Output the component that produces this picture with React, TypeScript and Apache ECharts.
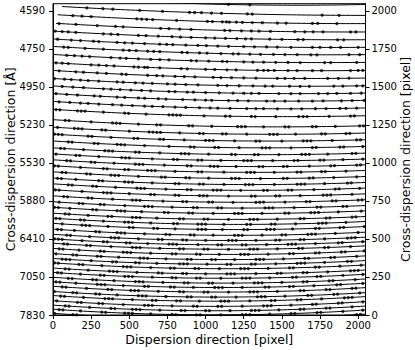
import React, { useEffect, useRef } from "react";
import * as echarts from "echarts";

const xTicks = [0, 250, 500, 750, 1000, 1250, 1500, 1750, 2000];
const pixelTicks = [0, 250, 500, 750, 1000, 1250, 1500, 1750, 2000];
const waveLabels = ["7830", "7050", "6410", "5880", "5530", "5230", "4950", "4750", "4590"];

// order traces: y [pixel] at x = 0, 1024, 2048
const traceLeft = [2100, 2033, 1977, 1920, 1868, 1816, 1767, 1714, 1660, 1609, 1556, 1507, 1457, 1405, 1353, 1285, 1236, 1190, 1145, 1100, 1060, 1021, 982, 942, 901, 863, 824, 784, 745, 709, 670, 637, 603, 565, 531, 501, 472, 438, 404, 372, 343, 309, 280, 248, 219, 189, 155, 128, 94, 65, 38, 11];
const traceMid = [2046, 1987, 1931, 1875, 1823, 1771, 1722, 1670, 1616, 1564, 1512, 1463, 1413, 1362, 1310, 1242, 1193, 1148, 1103, 1058, 1018, 979, 941, 900, 860, 822, 784, 743, 705, 669, 630, 597, 563, 525, 491, 462, 433, 399, 365, 334, 305, 271, 242, 210, 181, 151, 118, 91, 57, 28, 1, -26];
const traceRight = [2043, 1971, 1917, 1862, 1811, 1761, 1713, 1662, 1609, 1559, 1508, 1460, 1412, 1362, 1311, 1245, 1197, 1153, 1109, 1065, 1026, 988, 951, 911, 872, 835, 797, 758, 720, 685, 648, 615, 582, 545, 512, 483, 455, 422, 389, 358, 329, 296, 268, 237, 209, 180, 147, 121, 88, 59, 33, 6];
const traceStart = [0, 60, 30, 20];

// identified line positions along each order [pixel]
const orderDots: number[][] = [
  [1150, 1290],
  [222, 327, 392, 568, 718, 895, 928, 973, 1039, 1104, 1274, 1306, 1764, 1875],
  [130, 190, 250, 549, 581, 614, 653, 810, 1012, 1045, 1110, 1137, 1156, 1202, 1241, 1306, 1372, 1470, 1528, 1700, 1735, 1860],
  [40, 150, 290, 410, 460, 705, 760, 830, 905, 1125, 1160, 1235, 1300, 1350, 1425, 1585, 1650, 1705, 1770, 1950, 1985],
  [15, 60, 100, 150, 330, 380, 425, 560, 610, 690, 780, 835, 905, 1000, 1060, 1130, 1205, 1262, 1300, 1420, 1500, 1605, 1640, 1865, 1905],
  [30, 120, 180, 265, 300, 420, 470, 520, 600, 700, 745, 785, 870, 950, 1005, 1080, 1150, 1250, 1320, 1400, 1470, 1560, 1700, 1750, 1820, 1885, 2000],
  [70, 100, 210, 330, 460, 500, 545, 620, 660, 700, 845, 880, 960, 1010, 1100, 1180, 1215, 1290, 1360, 1445, 1520, 1600, 1690, 1730, 1940, 2010],
  [90, 140, 190, 240, 380, 440, 480, 560, 640, 700, 760, 905, 940, 1020, 1110, 1140, 1250, 1310, 1380, 1460, 1540, 1620, 1780, 1820, 1990],
  [20, 60, 100, 250, 300, 350, 400, 530, 560, 600, 620, 700, 840, 880, 1000, 1060, 1140, 1200, 1340, 1380, 1410, 1450, 1540, 1600, 1700, 1760, 1950, 2000, 2030],
  [40, 150, 200, 290, 350, 450, 480, 620, 680, 720, 800, 860, 930, 1050, 1100, 1170, 1250, 1330, 1470, 1520, 1580, 1650, 1800, 1870, 1940],
  [10, 75, 120, 180, 230, 300, 420, 460, 540, 590, 650, 750, 800, 870, 950, 1080, 1140, 1220, 1310, 1390, 1440, 1550, 1620, 1680, 1840, 1900, 1990, 2030],
  [60, 130, 200, 330, 380, 440, 510, 580, 640, 760, 800, 880, 920, 1000, 1090, 1180, 1250, 1300, 1350, 1480, 1560, 1620, 1740, 1800, 1860, 1950, 2020],
  [20, 90, 160, 270, 310, 420, 470, 560, 600, 690, 740, 850, 930, 1000, 1040, 1150, 1210, 1280, 1400, 1450, 1520, 1610, 1700, 1770, 1890, 1960, 2040],
  [40, 110, 180, 230, 300, 390, 450, 520, 600, 650, 720, 800, 870, 960, 1030, 1080, 1160, 1270, 1330, 1380, 1470, 1560, 1630, 1720, 1790, 1880, 1920, 1990],
  [20, 45, 160, 185, 210, 330, 470, 495, 610, 760, 785, 810, 835, 990, 1130, 1160, 1300, 1325, 1460, 1610, 1640, 1665, 1810, 1950, 1975],
  [80, 105, 250, 390, 415, 440, 560, 680, 705, 890, 915, 1040, 1210, 1235, 1260, 1380, 1520, 1545, 1700, 1725, 1850, 2010, 2035],
  [30, 140, 165, 190, 320, 345, 500, 630, 655, 680, 705, 830, 960, 985, 1110, 1135, 1270, 1420, 1445, 1470, 1590, 1760, 1785, 1920, 1945],
  [10, 35, 60, 230, 255, 380, 530, 555, 700, 725, 860, 1000, 1025, 1050, 1190, 1330, 1355, 1500, 1640, 1665, 1690, 1830, 1990, 2015],
  [100, 125, 270, 295, 420, 445, 470, 600, 760, 900, 925, 1060, 1085, 1220, 1370, 1395, 1420, 1560, 1700, 1725, 1880, 1905, 2030],
  [50, 75, 200, 340, 365, 390, 540, 565, 700, 840, 865, 890, 1020, 1170, 1195, 1320, 1345, 1480, 1630, 1655, 1680, 1800, 1960, 1985],
  [20, 150, 175, 300, 450, 475, 500, 650, 790, 815, 950, 975, 1100, 1250, 1275, 1300, 1440, 1580, 1605, 1750, 1775, 1900, 2030],
  [90, 115, 250, 275, 400, 540, 565, 590, 730, 880, 905, 1030, 1055, 1080, 1200, 1350, 1375, 1510, 1535, 1680, 1820, 1845, 1990, 2015],
  [10, 35, 180, 330, 355, 470, 495, 620, 645, 670, 800, 950, 975, 1120, 1270, 1295, 1320, 1450, 1600, 1625, 1760, 1785, 1920],
  [60, 85, 220, 245, 380, 405, 430, 560, 710, 735, 870, 895, 1020, 1170, 1195, 1220, 1360, 1510, 1535, 1680, 1705, 1840, 1990],
  [30, 55, 150, 300, 325, 470, 495, 520, 650, 800, 825, 960, 985, 1120, 1260, 1285, 1310, 1450, 1600, 1625, 1650, 1780, 1930, 1955],
  [100, 125, 260, 285, 410, 550, 575, 600, 740, 880, 905, 1050, 1075, 1100, 1230, 1380, 1405, 1540, 1565, 1710, 1850, 1875, 2010],
  [15, 40, 190, 330, 355, 380, 500, 640, 665, 800, 825, 960, 985, 1010, 1150, 1300, 1325, 1460, 1485, 1620, 1770, 1795, 1820, 1960],
  [70, 95, 230, 255, 390, 520, 545, 570, 720, 850, 875, 1020, 1045, 1180, 1330, 1355, 1380, 1520, 1660, 1685, 1830, 1855, 2000, 2025],
  [40, 170, 195, 310, 335, 470, 600, 625, 650, 780, 920, 945, 1080, 1105, 1240, 1390, 1415, 1440, 1580, 1730, 1755, 1900, 1925],
  [10, 35, 110, 260, 285, 420, 445, 470, 580, 730, 755, 890, 915, 1050, 1190, 1215, 1240, 1370, 1520, 1545, 1690, 1715, 1740, 1870, 2020],
  [80, 105, 230, 360, 385, 520, 545, 570, 680, 830, 855, 990, 1015, 1150, 1290, 1315, 1340, 1470, 1620, 1645, 1790, 1815, 1960, 1985],
  [20, 45, 180, 205, 330, 470, 495, 520, 640, 790, 815, 950, 975, 1000, 1120, 1270, 1295, 1430, 1455, 1590, 1740, 1765, 1790, 1920],
  [60, 190, 215, 240, 360, 500, 525, 660, 685, 800, 950, 975, 1000, 1110, 1250, 1275, 1400, 1425, 1450, 1570, 1720, 1745, 1880, 1905, 2040],
  [30, 55, 140, 280, 305, 420, 445, 470, 600, 740, 765, 900, 925, 1050, 1190, 1215, 1240, 1370, 1500, 1525, 1670, 1695, 1720, 1850, 2000],
  [90, 115, 240, 380, 405, 430, 560, 690, 715, 850, 875, 1000, 1150, 1175, 1200, 1330, 1460, 1485, 1620, 1645, 1780, 1930, 1955, 1980],
  [10, 35, 60, 190, 330, 355, 480, 505, 620, 760, 785, 810, 950, 1080, 1105, 1240, 1265, 1400, 1540, 1565, 1590, 1720, 1870, 1895, 2030],
  [70, 95, 220, 245, 380, 520, 545, 570, 700, 830, 855, 990, 1015, 1150, 1290, 1315, 1340, 1470, 1610, 1635, 1780, 1805, 1950],
  [40, 65, 170, 310, 335, 460, 485, 510, 640, 780, 805, 940, 965, 1090, 1230, 1255, 1280, 1410, 1550, 1575, 1720, 1745, 1890, 1915, 2040],
  [20, 130, 155, 290, 315, 430, 570, 595, 620, 740, 880, 905, 1040, 1065, 1190, 1330, 1355, 1380, 1510, 1650, 1675, 1820, 1845, 1990],
  [60, 85, 110, 250, 390, 415, 540, 565, 680, 830, 855, 880, 1010, 1140, 1165, 1300, 1325, 1460, 1600, 1625, 1650, 1780, 1930, 1955],
  [10, 35, 170, 195, 320, 460, 485, 510, 640, 770, 795, 930, 955, 1090, 1230, 1255, 1280, 1410, 1550, 1575, 1720, 1745, 1880, 2020],
  [80, 105, 230, 370, 395, 420, 550, 690, 715, 850, 875, 1000, 1140, 1165, 1190, 1330, 1470, 1495, 1640, 1665, 1800, 1950, 1975, 2000],
  [30, 55, 180, 310, 335, 470, 495, 520, 650, 780, 805, 940, 965, 1100, 1240, 1265, 1290, 1420, 1570, 1595, 1730, 1755, 1900, 2030],
  [100, 125, 260, 285, 400, 540, 565, 590, 720, 860, 885, 1020, 1045, 1180, 1320, 1345, 1370, 1500, 1640, 1665, 1810, 1835, 1980],
  [20, 45, 150, 290, 315, 340, 460, 600, 625, 770, 795, 920, 1060, 1085, 1110, 1240, 1390, 1415, 1550, 1575, 1710, 1860, 1885, 2030],
  [60, 85, 220, 360, 385, 510, 535, 560, 690, 830, 855, 990, 1015, 1150, 1290, 1315, 1340, 1470, 1620, 1645, 1790, 1815, 1960, 1985],
  [10, 130, 155, 280, 305, 420, 560, 585, 610, 740, 880, 905, 1040, 1065, 1200, 1340, 1365, 1390, 1520, 1670, 1695, 1840, 1865, 2010],
  [50, 75, 200, 340, 365, 390, 520, 650, 675, 810, 835, 960, 1100, 1125, 1150, 1290, 1430, 1455, 1600, 1625, 1760, 1910, 1935, 1960],
  [25, 160, 185, 300, 325, 460, 600, 625, 650, 780, 920, 945, 1080, 1105, 1240, 1380, 1405, 1430, 1560, 1700, 1725, 1870, 1895, 2030],
  [80, 105, 240, 380, 405, 520, 545, 570, 700, 840, 865, 1000, 1025, 1160, 1300, 1325, 1350, 1480, 1620, 1645, 1790, 1815, 1960],
  [40, 65, 180, 320, 345, 470, 495, 520, 640, 780, 805, 940, 965, 1100, 1240, 1265, 1290, 1420, 1560, 1585, 1730, 1755, 1900, 2030],
  [10, 130, 155, 300, 440, 465, 590, 615, 740, 880, 905, 930, 1060, 1200, 1225, 1360, 1385, 1520, 1660, 1685, 1710, 1840, 1990, 2015],
];

const X_MAX = 2048;
const Y_MAX = 2048;
const FONT = "DejaVu Sans";

function traceY(i: number, x: number): number {
  const l = traceLeft[i], m = traceMid[i], r = traceRight[i];
  const a = 1024, b = 2048;
  return (
    (l * (x - a) * (x - b)) / (a * b) +
    (m * x * (x - b)) / (-a * a) +
    (r * x * (x - a)) / (b * a)
  );
}

export default function App() {
  const ref = useRef<HTMLDivElement>(null);
  useEffect(() => {
    if (!ref.current) return;
    const chart = echarts.init(ref.current, undefined, { renderer: "svg" });
    const series: any[] = [];
    for (let i = 0; i < traceLeft.length; i++) {
      const start = traceStart[i] ?? 0;
      const pts: number[][] = [];
      for (let x = start; x <= 2048; x += 32) pts.push([x, traceY(i, x)]);
      if (pts[pts.length - 1][0] !== 2048) pts.push([2048, traceY(i, 2048)]);
      series.push({
        type: "line",
        data: pts,
        showSymbol: false,
        symbol: "none",
        lineStyle: { color: "#000", width: 1 },
        silent: true,
        clip: true,
        z: 2,
      });
    }
    const dots: number[][] = [];
    orderDots.forEach((xs, i) => {
      xs.forEach((x) => {
        const y = traceY(i, x);
        if (y >= 0 && y <= Y_MAX) dots.push([x, y]);
      });
    });
    series.push({
      type: "scatter",
      data: dots,
      symbol: "circle",
      symbolSize: 3.2,
      itemStyle: { color: "#000" },
      silent: true,
      z: 3,
    });

    const labelStyle = { color: "#000", fontFamily: FONT, fontSize: 10 };
    const nameStyle = { color: "#000", fontFamily: FONT, fontSize: 12.5 };

    chart.setOption({
      animation: false,
      grid: {
        left: 53,
        right: 49.5,
        top: 3.7,
        bottom: 35,
        containLabel: false,
        outerBoundsMode: "none",
        show: true,
        borderColor: "#000",
        borderWidth: 1,
        backgroundColor: "transparent",
      },
      xAxis: {
        type: "value",
        min: 0,
        max: X_MAX,
        interval: 250,
        name: "Dispersion direction [pixel]",
        nameLocation: "middle",
        nameGap: 18,
        nameMoveOverlap: false,
        nameTextStyle: nameStyle,
        axisLine: { show: true, lineStyle: { color: "#000", width: 1 } },
        axisTick: { show: true, length: 4, lineStyle: { color: "#000" }, customValues: xTicks },
        axisLabel: { ...labelStyle, margin: 5, customValues: xTicks, formatter: (v: number) => String(v) },
        splitLine: { show: false },
      },
      yAxis: [
        {
          type: "value",
          position: "left",
          min: 0,
          max: Y_MAX,
          interval: 250,
          name: "Cross-dispersion direction [Å]",
          nameLocation: "middle",
          nameRotate: 90,
          nameGap: 36,
          nameMoveOverlap: false,
          nameTextStyle: nameStyle,
          axisLine: { show: true, lineStyle: { color: "#000", width: 1 } },
          axisTick: { show: true, length: 4, lineStyle: { color: "#000" }, customValues: pixelTicks },
          axisLabel: {
            ...labelStyle,
            margin: 8,
            customValues: pixelTicks,
            formatter: (v: number) => waveLabels[pixelTicks.indexOf(v)] ?? "",
          },
          splitLine: { show: false },
        },
        {
          type: "value",
          position: "right",
          min: 0,
          max: Y_MAX,
          interval: 250,
          name: "Cross-dispersion direction [pixel]",
          nameLocation: "middle",
          nameRotate: 90,
          nameGap: 33,
          nameMoveOverlap: false,
          nameTextStyle: nameStyle,
          axisLine: { show: true, lineStyle: { color: "#000", width: 1 } },
          axisTick: { show: true, length: 4, lineStyle: { color: "#000" }, customValues: pixelTicks },
          axisLabel: { ...labelStyle, margin: 6, customValues: pixelTicks, formatter: (v: number) => String(v) },
          splitLine: { show: false },
        },
      ],
      series,
    });
    return () => chart.dispose();
  }, []);
  return (
    <div
      ref={ref}
      style={{ position: "fixed", left: 0, top: 0, width: 415, height: 350, background: "#fff" }}
    />
  );
}
